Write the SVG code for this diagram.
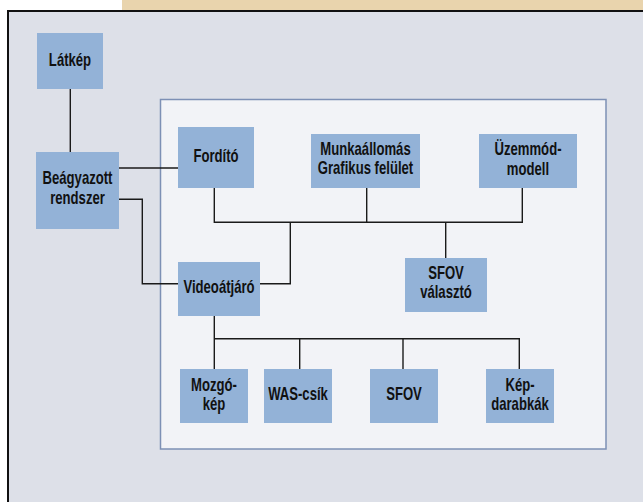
<svg xmlns="http://www.w3.org/2000/svg" width="643" height="502" viewBox="0 0 643 502">
<style>
.box{fill:#93b2d7}
.t{font-family:"Liberation Sans",Arial,sans-serif;font-weight:bold;font-size:17.5px;fill:#111;text-anchor:middle}
.c{fill:none;stroke:#1a1a1a;stroke-width:1.4}
</style>
<rect x="0" y="0" width="643" height="502" fill="#ffffff"/>
<rect x="122" y="0" width="521" height="11" fill="#e9d4ad"/>
<rect x="8" y="11" width="640" height="500" fill="#dde0e8" stroke="#111" stroke-width="2"/>
<rect x="160.5" y="99.5" width="445.5" height="349.5" fill="#f2f3f7" stroke="#7d90b5" stroke-width="1.5"/>
<g id="connectors">
<path class="c" d="M70.3 89V152"/>
<path class="c" d="M119 168H178"/>
<path class="c" d="M119 199.3H142.3V283.7H178"/>
<path class="c" d="M260 283.7H290.3V222.3"/>
<path class="c" d="M214.3 188V222.3H522.3V188"/>
<path class="c" d="M366.7 188V222.3"/>
<path class="c" d="M445.7 222.3V258"/>
<path class="c" d="M214.3 316V369"/>
<path class="c" d="M214.3 338.7H519.3V369"/>
<path class="c" d="M299.7 338.7V369"/>
<path class="c" d="M403 338.7V369"/>
</g>
<g id="latkep"><rect class="box" x="37" y="33" width="66" height="56"/><text class="t" transform="translate(70 66) scale(0.75 1)">Látkép</text></g>
<g id="beagyazott"><rect class="box" x="36" y="152" width="83" height="77"/><text class="t" transform="translate(77.5 184.3) scale(0.75 1)">Beágyazott</text><text class="t" transform="translate(77.5 204.3) scale(0.75 1)">rendszer</text></g>
<g id="fordito"><rect class="box" x="178" y="127" width="76" height="61"/><text class="t" transform="translate(216 162.3) scale(0.75 1)">Fordító</text></g>
<g id="munkaallomas"><rect class="box" x="311" y="134" width="109" height="54"/><text class="t" transform="translate(365.5 155.3) scale(0.75 1)">Munkaállomás</text><text class="t" transform="translate(365.5 174) scale(0.75 1)">Grafikus felület</text></g>
<g id="uzemmod"><rect class="box" x="479" y="134" width="98" height="54"/><text class="t" transform="translate(528 155.3) scale(0.75 1)">Üzemmód-</text><text class="t" transform="translate(528 174.5) scale(0.75 1)">modell</text></g>
<g id="sfov-valaszto"><rect class="box" x="405" y="258" width="82" height="54"/><text class="t" transform="translate(446 278.7) scale(0.75 1)">SFOV</text><text class="t" transform="translate(446 298) scale(0.75 1)">választó</text></g>
<g id="videoatjaro"><rect class="box" x="178" y="262" width="82" height="54"/><text class="t" transform="translate(219 293.3) scale(0.75 1)">Videoátjáró</text></g>
<g id="mozgokep"><rect class="box" x="180" y="369" width="68" height="54"/><text class="t" transform="translate(214 390.7) scale(0.75 1)">Mozgó-</text><text class="t" transform="translate(214 410) scale(0.75 1)">kép</text></g>
<g id="was-csik"><rect class="box" x="264" y="369" width="68" height="54"/><text class="t" transform="translate(298 400) scale(0.75 1)">WAS-csík</text></g>
<g id="sfov"><rect class="box" x="370" y="369" width="68" height="54"/><text class="t" transform="translate(404 400) scale(0.75 1)">SFOV</text></g>
<g id="kepdarabkak"><rect class="box" x="486" y="369" width="68" height="54"/><text class="t" transform="translate(520 390.7) scale(0.75 1)">Kép-</text><text class="t" transform="translate(520 410) scale(0.75 1)">darabkák</text></g>
</svg>
